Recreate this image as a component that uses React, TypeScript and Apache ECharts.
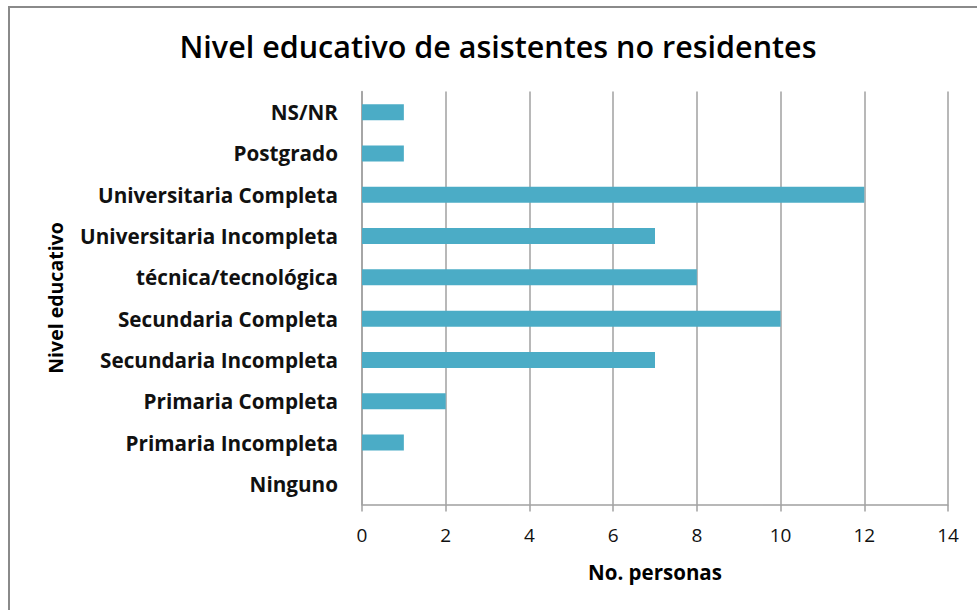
import React, { useEffect, useRef } from "react";
import * as echarts from "echarts";

const categories = [
  "NS/NR",
  "Postgrado",
  "Universitaria Completa",
  "Universitaria Incompleta",
  "técnica/tecnológica",
  "Secundaria Completa",
  "Secundaria Incompleta",
  "Primaria Completa",
  "Primaria Incompleta",
  "Ninguno",
];
const values = [1, 1, 12, 7, 8, 10, 7, 2, 1, 0];

const FONT = "'Open Sans', 'Noto Sans', sans-serif";

export default function App() {
  const ref = useRef<HTMLDivElement>(null);
  useEffect(() => {
    if (!ref.current) return;
    const chart = echarts.init(ref.current, null, { renderer: "svg" });
    chart.setOption({
      animation: false,
      backgroundColor: "#ffffff",
      title: {
        text: "Nivel educativo de asistentes no residentes",
        left: 493,
        textAlign: "center",
        top: 25,
        textStyle: { fontFamily: FONT, fontSize: 30.5, fontWeight: 600, color: "#000" },
      },
      graphic: [
        {
          type: "rect",
          shape: { x: 9, y: 7, width: 1100, height: 800 },
          style: { fill: "none", stroke: "#8a8a8a", lineWidth: 2 },
          silent: true,
        },
      ],
      grid: { left: 362, right: 29, top: 91.5, bottom: 105.5, containLabel: false },
      xAxis: {
        type: "value",
        min: 0,
        max: 14,
        interval: 2,
        name: "No. personas",
        nameLocation: "middle",
        nameGap: 57,
        nameTextStyle: { fontFamily: FONT, fontSize: 20.5, fontWeight: "bold", color: "#000" },
        axisLine: { show: true, lineStyle: { color: "#a0a0a0", width: 1.5 } },
        axisTick: { show: true, length: 7, lineStyle: { color: "#a0a0a0", width: 1.5 } },
        axisLabel: { fontFamily: FONT, fontSize: 19, color: "#111", margin: 21 },
        splitLine: { show: true, lineStyle: { color: "#a0a0a0", width: 1.5 } },
      },
      yAxis: {
        type: "category",
        data: categories,
        inverse: true,
        name: "Nivel educativo",
        nameLocation: "middle",
        nameGap: 297,
        nameRotate: 90,
        nameTextStyle: { fontFamily: FONT, fontSize: 19.5, fontWeight: "bold", color: "#000" },
        axisLine: { show: true, lineStyle: { color: "#a0a0a0", width: 1.5 } },
        axisTick: { show: false },
        axisLabel: { fontFamily: FONT, fontSize: 20.7, fontWeight: "bold", color: "#111", margin: 24 },
        splitLine: { show: false },
      },
      series: [
        {
          type: "bar",
          data: values,
          barWidth: 16,
          itemStyle: { color: "#4BACC6" },
        },
      ],
    });
    return () => chart.dispose();
  }, []);
  return (
    <div
      ref={ref}
      style={{ position: "absolute", left: 0, top: 0, width: 977, height: 610 }}
    />
  );
}
